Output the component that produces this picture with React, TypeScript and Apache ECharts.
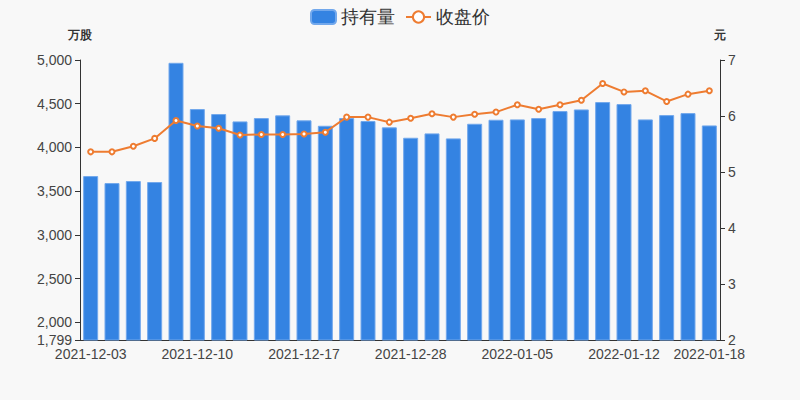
import React, { useEffect, useRef } from "react";
import * as echarts from "echarts";

const dates = [
  "2021-12-03", "2021-12-06", "2021-12-07", "2021-12-08", "2021-12-09",
  "2021-12-10", "2021-12-13", "2021-12-14", "2021-12-15", "2021-12-16",
  "2021-12-17", "2021-12-20", "2021-12-21", "2021-12-23", "2021-12-24",
  "2021-12-28", "2021-12-29", "2021-12-30", "2021-12-31", "2022-01-04",
  "2022-01-05", "2022-01-06", "2022-01-07", "2022-01-10", "2022-01-11",
  "2022-01-12", "2022-01-13", "2022-01-14", "2022-01-17", "2022-01-18",
];

const holdings = [
  3673, 3593, 3616, 3605, 4968, 4439, 4382, 4298, 4336, 4367,
  4310, 4248, 4336, 4302, 4230, 4111, 4161, 4104, 4271, 4317,
  4321, 4336, 4416, 4435, 4519, 4496, 4321, 4370, 4393, 4252,
];

const closePrice = [
  5.36, 5.36, 5.46, 5.6, 5.92, 5.82, 5.78, 5.66, 5.67, 5.67,
  5.68, 5.71, 5.98, 5.98, 5.89, 5.96, 6.04, 5.98, 6.03, 6.07,
  6.2, 6.12, 6.2, 6.28, 6.58, 6.43, 6.45, 6.26, 6.39, 6.45,
];

const shownLabel = (i: number) => i % 5 === 0 || i === dates.length - 1;

export default function App() {
  const ref = useRef<HTMLDivElement>(null);
  useEffect(() => {
    document.body.style.margin = "0";
    if (!ref.current) return;
    const chart = echarts.init(ref.current, null, { renderer: "svg" });
    chart.setOption({
      animation: false,
      backgroundColor: "#f8f8f8",
      legend: {
        top: 3,
        left: "center",
        itemWidth: 25,
        itemHeight: 14,
        itemGap: 10,
        textStyle: { fontSize: 18, color: "#333" },
        data: [
          { name: "持有量", icon: "roundRect" },
          { name: "收盘价" },
        ],
      },
      grid: { left: 80, right: 80, top: 60, bottom: 60 },
      xAxis: {
        type: "category",
        data: dates,
        boundaryGap: true,
        axisLine: { lineStyle: { color: "#333" } },
        axisTick: { interval: (i: number) => shownLabel(i) },
        axisLabel: {
          interval: (i: number) => shownLabel(i),
          fontSize: 14,
          color: "#444",
          margin: 7,
        },
      },
      yAxis: [
        {
          type: "value",
          name: "万股",
          min: 1799,
          max: 5000,
          nameTextStyle: { fontWeight: "bold", fontSize: 12, color: "#333", padding: [0, 0, 4, 0] },
          axisLine: { show: true, lineStyle: { color: "#333" } },
          axisTick: { show: true },
          splitLine: { show: false },
          axisLabel: { fontSize: 14, color: "#444" },
        },
        {
          type: "value",
          name: "元",
          min: 2,
          max: 7,
          nameTextStyle: { fontWeight: "bold", fontSize: 12, color: "#333", padding: [0, 0, 4, 0] },
          axisLine: { show: true, lineStyle: { color: "#333" } },
          axisTick: { show: true },
          splitLine: { show: false },
          axisLabel: { fontSize: 14, color: "#444" },
        },
      ],
      series: [
        {
          name: "持有量",
          type: "bar",
          yAxisIndex: 0,
          data: holdings,
          barWidth: 15,
          itemStyle: { color: "#3483e2", borderColor: "#72a8ec", borderWidth: 1 },
        },
        {
          name: "收盘价",
          type: "line",
          yAxisIndex: 1,
          data: closePrice,
          symbol: "emptyCircle",
          symbolSize: 5,
          lineStyle: { color: "#ee7c31", width: 2 },
          itemStyle: { color: "#ee7c31" },
        },
      ],
    });
    return () => chart.dispose();
  }, []);
  return <div ref={ref} style={{ width: 800, height: 400 }} />;
}
